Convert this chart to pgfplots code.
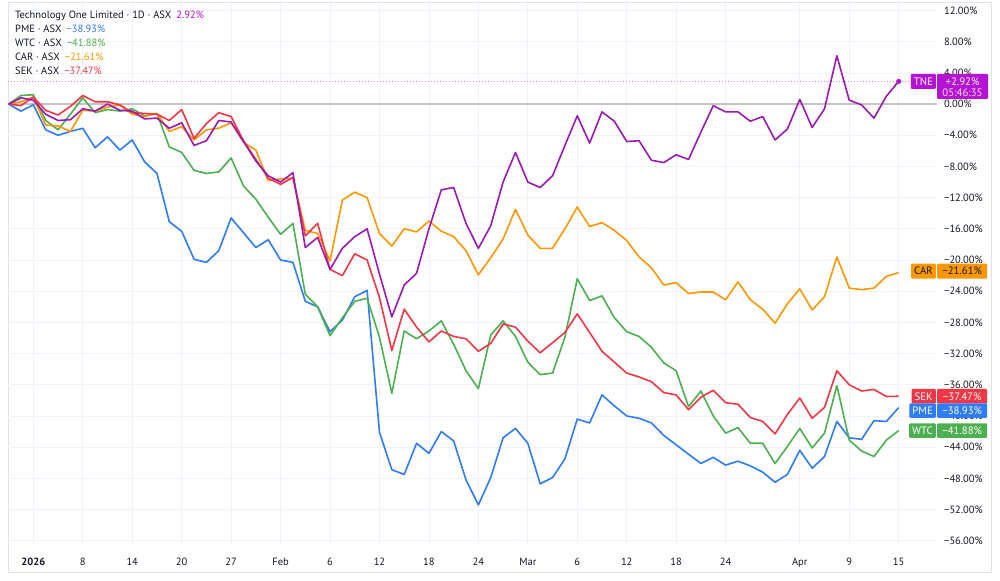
\documentclass[border=0pt]{standalone}
\usepackage{fontspec}
\setmainfont{PT Sans}
\usepackage{pgfplots}
\usepackage{pgfplotstable}
\pgfplotsset{compat=1.18}
\definecolor{tvtext}{HTML}{131722}
\definecolor{gridc}{HTML}{F0F3FA}
\definecolor{zeroc}{HTML}{C4C4C4}
\definecolor{framec}{HTML}{E0E3EB}
\definecolor{cpme}{HTML}{2E7CF6}
\definecolor{cwtc}{HTML}{4CAF50}
\definecolor{ccar}{HTML}{FF9800}
\definecolor{csek}{HTML}{F23645}
\definecolor{ctne}{HTML}{9A1AB2}
\definecolor{tnebox}{HTML}{B612D4}
\definecolor{tnedot}{HTML}{E07EF0}

\pgfplotstableread{
i pme wtc car sek tne
0 0 0 0 0 0
1 -0.9 1.1 0.3 -0.2 0.8
2 -0.1 1.2 0.9 0.9 0.5
3 -3.3 -2.1 -2.7 -0.8 -1.3
4 -4.0 -3.3 -2.8 -1.4 -2.1
5 -3.5 -1.3 -3.5 -0.3 -2.0
6 -3.1 0.8 -0.8 1.1 -0.6
7 -5.6 -1.1 -0.9 0.3 -0.9
8 -4.2 -0.7 -0.4 0.3 0.0
9 -5.9 -0.9 -0.1 -0.1 -0.8
10 -4.6 -0.6 -1.3 -1.1 -0.9
11 -7.4 -1.5 -1.6 -1.2 -1.9
12 -8.9 -1.2 -1.2 -1.3 -1.8
13 -15.1 -5.5 -3.5 -2.1 -3.1
14 -16.3 -6.2 -2.9 -0.7 -2.4
15 -19.9 -8.5 -4.6 -4.4 -5.3
16 -20.3 -8.9 -3.3 -2.5 -4.7
17 -18.8 -8.7 -3.1 -1.1 -2.1
18 -14.6 -6.9 -2.4 -1.6 -2.3
19 -16.5 -10.5 -4.9 -4.7 -4.8
20 -18.4 -12.2 -5.9 -7.1 -7.3
21 -17.4 -14.5 -9.8 -9.5 -9.2
22 -20.0 -16.7 -9.6 -10.3 -10.0
23 -20.3 -15.3 -9.5 -9.4 -8.8
24 -25.3 -24.4 -16.2 -16.9 -18.4
25 -26.0 -26.0 -16.6 -15.3 -17.1
26 -29.2 -29.7 -20.1 -21.2 -21.2
27 -27.7 -27.4 -12.3 -22.0 -18.5
28 -24.7 -25.3 -11.3 -19.2 -17.0
29 -23.9 -24.9 -12.0 -20.0 -16.0
30 -42.1 -29.9 -16.6 -24.8 -21.8
31 -46.9 -37.1 -18.2 -31.6 -27.3
32 -47.5 -29.1 -16.0 -26.3 -23.2
33 -43.5 -30.1 -16.4 -28.6 -21.7
34 -44.8 -29.1 -15.0 -30.5 -16.0
35 -42.0 -27.8 -16.3 -29.1 -11.0
36 -43.2 -30.8 -17.0 -29.8 -10.7
37 -48.2 -34.2 -18.8 -30.1 -15.3
38 -51.4 -36.5 -21.9 -31.7 -18.5
39 -47.9 -29.6 -19.7 -30.7 -15.6
40 -42.8 -27.8 -17.3 -28.2 -10.0
41 -41.6 -29.8 -13.5 -28.6 -6.2
42 -43.5 -33.1 -16.8 -30.4 -10.0
43 -48.7 -34.7 -18.5 -31.9 -10.7
44 -47.9 -34.5 -18.5 -30.6 -9.2
45 -45.5 -29.9 -16.0 -29.3 -5.3
46 -40.4 -22.4 -13.2 -26.9 -1.5
47 -40.9 -25.2 -15.7 -29.3 -5.0
48 -37.3 -24.6 -15.2 -31.7 -1.0
49 -38.7 -27.4 -16.2 -33.1 -2.2
50 -40.0 -29.2 -17.5 -34.5 -4.8
51 -40.3 -29.8 -19.6 -35.0 -4.7
52 -40.9 -31.2 -21.0 -35.6 -7.2
53 -42.5 -33.2 -23.2 -37.0 -7.5
54 -43.7 -34.2 -22.9 -37.3 -6.5
55 -44.9 -38.8 -24.3 -39.2 -7.1
56 -46.1 -36.8 -24.1 -37.6 -3.6
57 -45.3 -40.0 -24.1 -36.7 -0.2
58 -46.3 -42.2 -25.1 -38.3 -1.0
59 -45.8 -41.5 -22.8 -38.5 -1.0
60 -46.4 -43.5 -25.1 -40.2 -2.2
61 -47.2 -43.5 -26.3 -40.7 -1.6
62 -48.5 -46.1 -28.1 -42.3 -4.6
63 -47.5 -43.9 -25.6 -39.8 -3.2
64 -44.4 -41.6 -23.7 -37.7 0.6
65 -46.7 -44.1 -26.4 -40.3 -3.0
66 -45.2 -42.2 -24.7 -38.9 -0.6
67 -40.7 -36.1 -19.6 -34.2 6.2
68 -42.8 -43.1 -23.6 -36.0 0.5
69 -43.0 -44.5 -23.8 -36.8 -0.1
70 -40.6 -45.2 -23.6 -36.6 -1.8
71 -40.7 -43.1 -22.1 -37.5 1.0
72 -38.93 -41.88 -21.61 -37.47 2.92
}\datatab

\newcommand{\tickfont}{\fontsize{10.5}{12}\selectfont}
\newcommand{\boxfont}{\fontsize{10.8}{11}\selectfont}

\begin{document}
\begin{tikzpicture}[x=1pt,y=1pt]
\fill[white] (0,0) rectangle (1000,580);
\draw[framec, line width=0.8pt] (8,8) rectangle (991,578);
\begin{axis}[
  at={(8pt,35pt)}, anchor=south west, scale only axis,
  width=929pt, height=545pt,
  xmin=-0.05, xmax=75.1, ymin=-56.6, ymax=13.3,
  axis line style={draw=none},
  major tick length=0pt,
  xtick={2,6,10,14,18,22,26,30,34,38,42,46,50,54,58,64,68,72},
  xticklabels={\textbf{2026},8,14,20,27,Feb,6,12,18,24,Mar,6,12,18,24,Apr,9,15},
  ytick={-56,-52,-48,-44,-40,-36,-32,-28,-24,-20,-16,-12,-8,-4,0,4,8,12},
  yticklabels={−56.00\%,−52.00\%,−48.00\%,−44.00\%,−40.00\%,−36.00\%,−32.00\%,−28.00\%,−24.00\%,−20.00\%,−16.00\%,−12.00\%,−8.00\%,−4.00\%,0.00\%,4.00\%,8.00\%,12.00\%},
  yticklabel pos=right,
  xticklabel style={anchor=base, yshift=-20pt, inner sep=0pt, font=\tickfont, text=tvtext},
  yticklabel style={anchor=west, inner sep=0pt, xshift=7pt, font=\tickfont, text=tvtext},
  grid=major, grid style={draw=gridc, line width=0.8pt},
  clip=false,
]
\draw[zeroc, line width=1.3pt] (axis cs:-0.05,0) -- (axis cs:75.1,0);
\draw[tnedot, dotted, line width=1pt] (axis cs:-0.05,2.92) -- (axis cs:75.1,2.92);
\addplot[cpme, line width=1.6pt, line join=round] table[x=i, y=pme] {\datatab};
\addplot[cwtc, line width=1.6pt, line join=round] table[x=i, y=wtc] {\datatab};
\addplot[ccar, line width=1.6pt, line join=round] table[x=i, y=car] {\datatab};
\addplot[csek, line width=1.6pt, line join=round] table[x=i, y=sek] {\datatab};
\addplot[ctne, line width=1.6pt, line join=round] table[x=i, y=tne] {\datatab};
\addplot[only marks, mark=*, mark size=2.3pt, tnebox] coordinates {(72,2.92)};
\coordinate (cTNE) at (axis cs:75.1,2.92);
\coordinate (cCAR) at (axis cs:75.1,-21.61);
\coordinate (cSEK) at (axis cs:75.1,-37.47);
\coordinate (cPME) at (axis cs:75.1,-38.93);
\coordinate (cWTC) at (axis cs:75.1,-41.88);
\end{axis}

% legend
\begin{scope}[every node/.style={anchor=west, inner sep=0pt, font=\tickfont, text=tvtext}]
\node at (15,565) {Technology One Limited · 1D · ASX\hspace{5pt}\textcolor{tnebox}{2.92\%}};
\node at (15,551.5) {PME · ASX\hspace{5pt}\textcolor{cpme}{−38.93\%}};
\node at (15,537.5) {WTC · ASX\hspace{5pt}\textcolor{cwtc}{−41.88\%}};
\node at (15,524) {CAR · ASX\hspace{5pt}\textcolor{ccar}{−21.61\%}};
\node at (15,510) {SEK · ASX\hspace{5pt}\textcolor{csek}{−37.47\%}};
\end{scope}

% right price labels
\begin{scope}[every node/.style={inner sep=0pt, font=\boxfont, text=white}]
% TNE
\node[fill=tnebox, anchor=east, inner xsep=3pt, minimum height=15pt, rounded corners=1pt] at ([xshift=-1pt]cTNE) {TNE};
\fill[tnebox, rounded corners=1pt] ([yshift=7.5pt]cTNE) rectangle ([xshift=51pt,yshift=-17.5pt]cTNE);
\node at ([xshift=25.5pt]cTNE) {+2.92\%};
\node[text=white!85!tnebox] at ([xshift=25.5pt,yshift=-11pt]cTNE) {05:46:35};
% CAR
\node[fill=ccar, text=tvtext, anchor=east, inner xsep=3pt, minimum height=15pt, rounded corners=1pt] at ([xshift=-1pt,yshift=1.5pt]cCAR) {CAR};
\node[fill=ccar, text=tvtext, anchor=west, minimum width=50pt, minimum height=15pt, rounded corners=1pt] at ([yshift=1.5pt]cCAR) {−21.61\%};
% SEK
\node[fill=csek, anchor=east, inner xsep=3pt, minimum height=14.5pt, rounded corners=1pt] at ([xshift=-1pt]cSEK) {SEK};
\node[fill=csek, anchor=west, minimum width=50pt, minimum height=14.5pt, rounded corners=1pt] at (cSEK) {−37.47\%};
% PME
\node[fill=cpme, anchor=east, inner xsep=3pt, minimum height=14.5pt, rounded corners=1pt] at ([xshift=-1pt,yshift=-3pt]cPME) {PME};
\node[fill=cpme, anchor=west, minimum width=50pt, minimum height=14.5pt, rounded corners=1pt] at ([yshift=-3pt]cPME) {−38.93\%};
% WTC
\node[fill=cwtc, anchor=east, inner xsep=3pt, minimum height=14.5pt, rounded corners=1pt] at ([xshift=-1pt]cWTC) {WTC};
\node[fill=cwtc, anchor=west, minimum width=50pt, minimum height=14.5pt, rounded corners=1pt] at (cWTC) {−41.88\%};
\end{scope}
\end{tikzpicture}
\end{document}
